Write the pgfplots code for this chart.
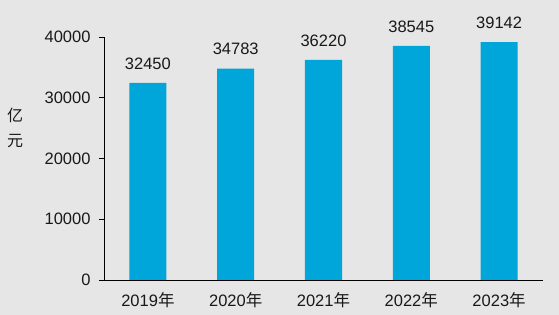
\documentclass[border=0pt]{standalone}
\usepackage{pgfplots}
\pgfplotsset{compat=1.18}
\usepackage{fontspec}
\setmainfont{Liberation Sans}
\newfontfamily\cjk{Noto Sans CJK SC}
\definecolor{bg}{HTML}{E6E6E6}
\definecolor{bar}{HTML}{00A5DA}
\begin{document}
\begin{tikzpicture}
\fill[bg] (-104pt,-35pt) rectangle (455pt,280pt);
\begin{axis}[
  scale only axis, width=439pt, height=243pt,
  xmin=-0.5, xmax=4.5, ymin=0, ymax=40000,
  axis x line*=bottom, axis y line*=left,
  axis line style={black, line width=0.8pt, -},
  xtick=data,
  xticklabels={2019{\cjk 年},2020{\cjk 年},2021{\cjk 年},2022{\cjk 年},2023{\cjk 年}},
  x tick style={draw=none},
  ytick={0,10000,20000,30000,40000},
  y tick style={black, line width=0.8pt},
  tick align=outside, major tick length=5pt,
  scaled y ticks=false,
  /pgf/number format/assume math mode=true,
  /pgf/number format/set thousands separator={},
  tick label style={font=\fontsize{16.5}{19}\selectfont, black!90},
  yticklabel style={xshift=-5pt},
  xticklabel style={yshift=-4pt},
  ylabel={{\cjk 亿}\\[6pt]{\cjk 元}},
  ylabel style={at={(axis description cs:-0.2027,0.625)}, anchor=center, rotate=-90, align=center, font=\fontsize{16}{19}\selectfont, black!90},
  nodes near coords,
  every node near coord/.append style={font=\fontsize{16.5}{19}\selectfont, black!90, yshift=10pt},
  point meta=explicit symbolic,
]
\addplot[ybar, bar width=37pt, fill=bar, draw=none] coordinates {
  (0,32450) [32450]
  (1,34783) [34783]
  (2,36220) [36220]
  (3,38545) [38545]
  (4,39142) [39142]
};
\end{axis}
\end{tikzpicture}
\end{document}
